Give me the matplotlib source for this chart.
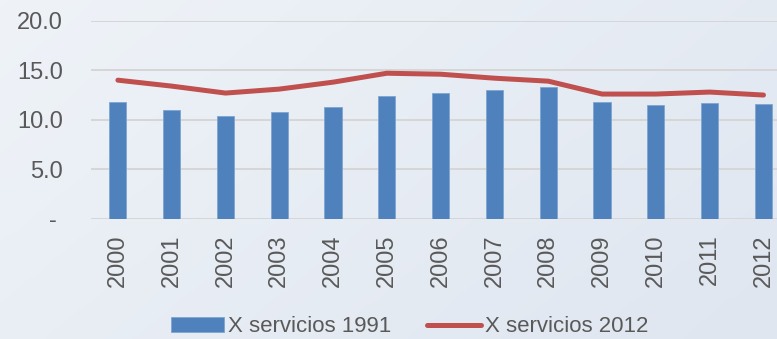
import numpy as np
import matplotlib
matplotlib.use("Agg")
import matplotlib.pyplot as plt
from matplotlib.colors import LinearSegmentedColormap

# Series
years = ["2000", "2001", "2002", "2003", "2004", "2005", "2006",
         "2007", "2008", "2009", "2010", "2011", "2012"]
x_servicios_1991 = [11.8, 11.0, 10.4, 10.8, 11.3, 12.4, 12.7,
                    13.0, 13.3, 11.8, 11.5, 11.7, 11.6]
x_servicios_2012 = [14.0, 13.4, 12.7, 13.1, 13.8, 14.7, 14.6,
                    14.2, 13.9, 12.6, 12.6, 12.8, 12.5]
y_ticks = [0, 5, 10, 15, 20]
y_tick_labels = ["- ", "5.0", "10.0", "15.0", "20.0"]

BAR_COLOR = "#4F81BD"
LINE_COLOR = "#C0504D"
TEXT_COLOR = "#595959"
GRID_COLOR = "#D6D6D6"

plt.rcParams["font.family"] = ["Liberation Sans", "DejaVu Sans"]

fig = plt.figure(figsize=(7.77, 3.39), dpi=100)

# soft diagonal background gradient
bg = fig.add_axes([0, 0, 1, 1], zorder=-10)
gx, gy = np.meshgrid(np.linspace(0, 1, 200), np.linspace(0, 1, 100))
grad = 0.65 * gx + 0.35 * gy
cmap = LinearSegmentedColormap.from_list("bg", ["#EFF3F8", "#DFE6F0"])
bg.imshow(grad, cmap=cmap, aspect="auto", extent=[0, 1, 0, 1], origin="upper")
bg.axis("off")

ax = fig.add_axes([0.1171, 0.354, 0.9001, 0.585])
ax.patch.set_alpha(0)

xs = np.arange(len(years))
bars = ax.bar(xs, x_servicios_1991, width=0.32, color=BAR_COLOR,
              edgecolor="#7FA5D3", linewidth=0.6, label="X servicios 1991",
              zorder=2)
line, = ax.plot(xs, x_servicios_2012, color=LINE_COLOR, linewidth=3.6,
                solid_capstyle="round", label="X servicios 2012", zorder=3)

ax.set_xlim(-0.5, len(years) - 0.5)
ax.set_ylim(0, 20)
ax.set_yticks(y_ticks)
ax.set_yticklabels(y_tick_labels)
ax.set_xticks(xs)
ax.set_xticklabels(years, rotation=90)
ax.tick_params(axis="y", length=0, pad=20, labelsize=17, labelcolor=TEXT_COLOR)
ax.tick_params(axis="x", length=0, pad=11, labelsize=17, labelcolor=TEXT_COLOR)
ax.grid(axis="y", color=GRID_COLOR, linewidth=1.4, zorder=0)
ax.set_axisbelow(True)
for spine in ax.spines.values():
    spine.set_visible(False)

leg = fig.legend([bars, line], ["X servicios 1991", "X servicios 2012"],
                 loc="center", bbox_to_anchor=(0.527, 0.036),
                 ncol=2, frameon=False, fontsize=16, handlelength=2.4,
                 handleheight=0.6, handletextpad=0.2, columnspacing=1.6,
                 borderpad=0)
for t in leg.get_texts():
    t.set_color(TEXT_COLOR)

fig.savefig("out.png", dpi=100)
